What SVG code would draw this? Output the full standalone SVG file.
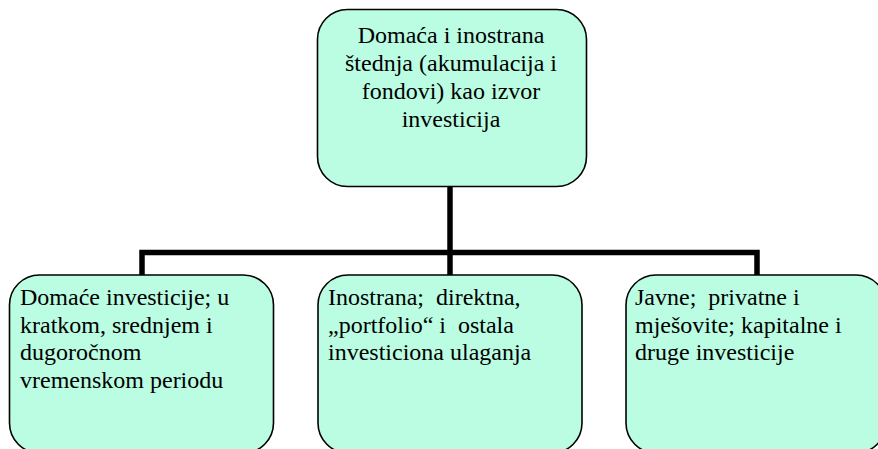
<svg xmlns="http://www.w3.org/2000/svg" width="878" height="449" viewBox="0 0 878 449">
<style>
.box{fill:#BBFDE3;stroke:#000;stroke-width:1.6}
.t{font-family:'Liberation Serif','Tinos','Times New Roman',Times,'DejaVu Serif',serif;font-size:24px;fill:#000}
.c{fill:none;stroke:#000;stroke-width:5.5}
</style>
<rect width="878" height="449" fill="#fff"/>
<g id="connectors">
<line class="c" x1="450" y1="186" x2="450" y2="276"/>
<polyline class="c" points="142,276 142,252.5 757,252.5 757,276"/>
</g>
<g id="top">
<rect class="box" x="317.5" y="9.5" width="269" height="177" rx="30" ry="30"/>
<text class="t" text-anchor="middle" font-family="Liberation Serif, serif"><tspan x="451" y="43">Domaća i inostrana</tspan><tspan x="451" y="71">štednja (akumulacija i</tspan><tspan x="451" y="99">fondovi) kao izvor</tspan><tspan x="451" y="127">investicija</tspan></text>
</g>
<g id="domace">
<rect class="box" x="9.5" y="275" width="264" height="178" rx="30" ry="30"/>
<text class="t" font-family="Liberation Serif, serif"><tspan x="20" y="305">Domaće investicije; u</tspan><tspan x="20" y="333">kratkom, srednjem i</tspan><tspan x="20" y="360">dugoročnom</tspan><tspan x="20" y="388">vremenskom periodu</tspan></text>
</g>
<g id="inostrana">
<rect class="box" x="318" y="275" width="264" height="178" rx="30" ry="30"/>
<text class="t" xml:space="preserve" font-family="Liberation Serif, serif"><tspan x="328" y="305">Inostrana;  direktna,</tspan><tspan x="328" y="333">„portfolio“ i  ostala</tspan><tspan x="328" y="360">investiciona ulaganja</tspan></text>
</g>
<g id="javne">
<rect class="box" x="626" y="275" width="260" height="178" rx="30" ry="30"/>
<text class="t" xml:space="preserve" font-family="Liberation Serif, serif"><tspan x="635" y="305">Javne;  privatne i</tspan><tspan x="635" y="333">mješovite; kapitalne i</tspan><tspan x="635" y="360">druge investicije</tspan></text>
</g>
</svg>
